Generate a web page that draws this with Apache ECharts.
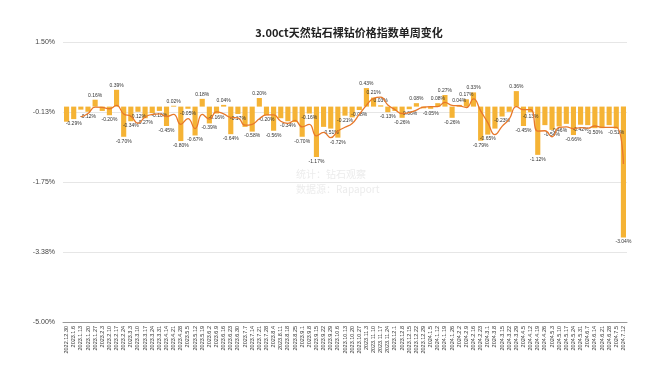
<!DOCTYPE html>
<html>
<head>
<meta charset="utf-8">
<script src="https://cdn.jsdelivr.net/npm/echarts@6/dist/echarts.min.js"></script>
<style>
  html, body { margin: 0; padding: 0; background: #fff; }
  #chart { width: 664px; height: 375px; }
</style>
</head>
<body>
<div id="chart"></div>
<script>
// 周度日期
const weeks = [
  '2022.12.30', '2023.1.6', '2023.1.13', '2023.1.20', '2023.1.27', '2023.2.3', '2023.2.10', '2023.2.17',
  '2023.2.24', '2023.3.3', '2023.3.10', '2023.3.17', '2023.3.24', '2023.3.31', '2023.4.14', '2023.4.21',
  '2023.4.28', '2023.5.5', '2023.5.12', '2023.5.19', '2023.6.2', '2023.6.9', '2023.6.16', '2023.6.23',
  '2023.6.30', '2023.7.7', '2023.7.14', '2023.7.21', '2023.7.28', '2023.8.4', '2023.8.11', '2023.8.18',
  '2023.8.25', '2023.9.1', '2023.9.8', '2023.9.15', '2023.9.22', '2023.9.29', '2023.10.6', '2023.10.13',
  '2023.10.20', '2023.10.27', '2023.11.3', '2023.11.10', '2023.11.17', '2023.11.24', '2023.12.1', '2023.12.8',
  '2023.12.15', '2023.12.22', '2023.12.29', '2024.1.5', '2024.1.12', '2024.1.19', '2024.1.26', '2024.2.2',
  '2024.2.9', '2024.2.16', '2024.2.23', '2024.3.1', '2024.3.8', '2024.3.15', '2024.3.22', '2024.3.29',
  '2024.4.5', '2024.4.12', '2024.4.19', '2024.4.26', '2024.5.3', '2024.5.10', '2024.5.17', '2024.5.24',
  '2024.5.31', '2024.6.7', '2024.6.14', '2024.6.21', '2024.6.28', '2024.7.5', '2024.7.12'
]

// 单周变化 (%)
const weeklyChange = [
  -0.35, -0.29, -0.07, -0.12, 0.16, -0.10, -0.20, 0.39, -0.70, -0.34,
  -0.12, -0.27, -0.15, -0.10, -0.45, 0.02, -0.80, -0.05, -0.67, 0.18,
  -0.39, -0.16, 0.04, -0.64, -0.17, -0.47, -0.58, 0.20, -0.20, -0.56,
  -0.27, -0.34, -0.36, -0.70, -0.16, -1.17, -0.47, -0.51, -0.72, -0.21,
  -0.25, -0.08, 0.43, 0.21, 0.03, -0.13, -0.10, -0.26, -0.06, 0.08,
  -0.04, -0.05, 0.08, 0.27, -0.26, 0.04, 0.17, 0.33, -0.79, -0.65,
  -0.51, -0.23, -0.12, 0.36, -0.45, -0.13, -1.12, -0.43, -0.54, -0.46,
  -0.40, -0.66, -0.42, -0.43, -0.50, -0.50, -0.43, -0.51, -3.04
]

// 折线 (趋势)
const trendLine = [
  null, null, -0.24, -0.16, -0.01, -0.02, -0.05, 0.03, -0.17, -0.22,
  -0.39, -0.24, -0.18, -0.17, -0.23, -0.18, -0.41, -0.28, -0.51, -0.18,
  -0.29, -0.12, -0.17, -0.25, -0.26, -0.43, -0.41, -0.28, -0.19, -0.19,
  -0.34, -0.39, -0.32, -0.47, -0.41, -0.68, -0.60, -0.72, -0.57, -0.48,
  -0.39, -0.18, 0.03, 0.19, 0.22, 0.04, -0.07, -0.16, -0.14, -0.08,
  -0.01, 0.00, 0.00, 0.10, 0.03, 0.02, -0.02, 0.18, -0.10, -0.37,
  -0.65, -0.46, -0.29, 0.00, -0.07, -0.07, -0.57, -0.56, -0.70, -0.48,
  -0.47, -0.51, -0.49, -0.50, -0.45, -0.48, -0.48, -0.48, -1.33
]

// 显示数值的柱子
const labeledIdx = [
  1, 3, 4, 6, 7, 8, 9, 10, 11, 13, 14, 15, 16, 17, 18, 19, 20, 21, 22, 23, 24, 26, 27, 28, 29,
  31, 33, 34, 35, 37, 38, 39, 41, 42, 43, 44, 45, 47, 48, 49, 51, 52, 53, 54, 55, 56, 57, 58, 59,
  61, 63, 64, 65, 66, 68, 69, 71, 72, 74, 77, 78
]

const barData = weeklyChange.map((v, i) => ({
  value: v,
  label: {
    show: labeledIdx.indexOf(i) >= 0,
    position: v >= 0 ? 'top' : 'bottom'
  }
}))

const chart = echarts.init(document.getElementById('chart'))

chart.setOption({
  animation: false,
  title: {
    text: '3.00ct天然钻石裸钻价格指数单周变化',
    left: 344,
    textAlign: 'center',
    top: 22,
    textStyle: {
      fontSize: 11,
      fontWeight: 'bold',
      color: '#222',
      fontFamily: 'Noto Sans CJK SC'
    }
  },
  grid: {
    left: 63,
    right: 37,
    top: 42,
    bottom: 53
  },
  graphic: [
    { type: 'text', left: 296, top: 169, style: { text: '统计：钻石观察', fontSize: 10, fill: '#ececec', fontFamily: 'Noto Sans CJK SC' } },
    { type: 'text', left: 296, top: 184, style: { text: '数据源：Rapaport', fontSize: 10, fill: '#ececec', fontFamily: 'Noto Sans CJK SC' } }
  ],
  xAxis: {
    type: 'category',
    data: weeks,
    axisLine: { onZero: false, lineStyle: { color: '#999' } },
    axisTick: { show: false },
    axisLabel: {
      interval: 0,
      rotate: 90,
      fontSize: 5.5,
      color: '#333',
      margin: 4
    }
  },
  yAxis: {
    type: 'value',
    min: -5,
    max: 1.5,
    interval: 1.625,
    axisLine: { show: false },
    axisTick: { show: false },
    splitLine: { lineStyle: { color: '#e6e6e6' } },
    axisLabel: {
      fontSize: 7,
      color: '#444',
      margin: 8,
      formatter: v => v.toFixed(2) + '%'
    }
  },
  series: [
    {
      type: 'bar',
      data: barData,
      barCategoryGap: '28%',
      itemStyle: { color: '#f5b335' },
      label: {
        fontSize: 5,
        color: '#333',
        distance: 2,
        formatter: p => p.value.toFixed(2) + '%'
      }
    },
    {
      type: 'line',
      data: trendLine,
      smooth: true,
      showSymbol: false,
      z: 3,
      lineStyle: { color: '#e8782a', width: 1.3 },
      itemStyle: { color: '#e8782a' }
    }
  ]
})
</script>
</body>
</html>
